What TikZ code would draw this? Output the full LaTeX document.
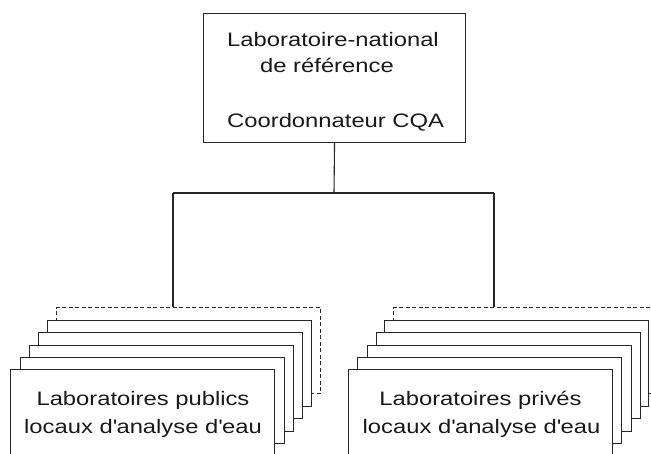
\documentclass[tikz,border=0pt]{standalone}
\usepackage{fontspec}
\setmainfont[FakeStretch=1.22]{Liberation Sans}
\begin{document}
\begin{tikzpicture}[x=1pt,y=-1pt,
  ln/.style={draw=black!85, line width=1.1pt},
  card/.style={ln, fill=white, rectangle, anchor=north west, minimum width=264pt, minimum height=86pt, inner sep=0pt},
  dcard/.style={card, dash pattern=on 4pt off 2.5pt},
  lbl/.style={font=\fontsize{19.5}{28}\selectfont, inner sep=0pt, text=black!90},
]
\useasboundingbox (0,0) rectangle (651,453);
\clip (0,0) rectangle (651,453);
\fill[white] (0,0) rectangle (651,453);
% top box
\node[ln, rectangle, anchor=north west, minimum width=262pt, minimum height=129pt, inner sep=0pt] (top) at (203,13) {};
\node[lbl, anchor=base west] (t1) at (227,46) {Laboratoire-national};
\node[lbl, anchor=base west] (t2) at (260,72) {de référence};
\node[lbl, anchor=base west] (t3) at (227,127) {Coordonnateur CQA};
% left stack
\node[dcard] (dl) at (56,307) {};
\node[card] (l1) at (47,319.5) {};
\node[card] (l2) at (38,332) {};
\node[card] (l3) at (28.5,344.5) {};
\node[card] (l4) at (19.5,357) {};
\node[card] (l5) at (10,369) {};
\node[lbl, anchor=base] (lt1) at (143,405) {Laboratoires publics};
\node[lbl, anchor=base] (lt2) at (143,433) {locaux d\textquotesingle analyse d\textquotesingle eau};
% right stack
\node[dcard] (dr) at (393,307) {};
\node[card] (r1) at (384,319.5) {};
\node[card] (r2) at (375.5,332) {};
\node[card] (r3) at (366.5,344.5) {};
\node[card] (r4) at (357,357) {};
\node[card] (r5) at (348,369) {};
\node[lbl, anchor=base] (rt1) at (480.5,405) {Laboratoires privés};
\node[lbl, anchor=base] (rt2) at (481.5,433) {locaux d\textquotesingle analyse d\textquotesingle eau};
% connectors
\coordinate (j) at (334,193);
\coordinate (jl) at (173,193);
\coordinate (jr) at (494,193);
\draw[ln] (top.south) -- (j);
\draw[ln] (jl) -- (jr);
\draw[ln] (jl) -- (jl |- dl.north);
\draw[ln] (jr) -- (jr |- dr.north);
\end{tikzpicture}
\end{document}
